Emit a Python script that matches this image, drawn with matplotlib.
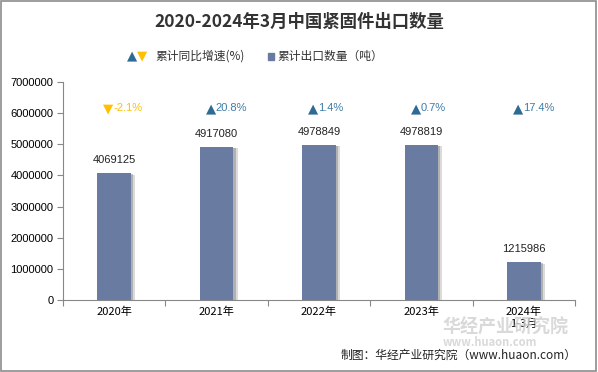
import matplotlib.pyplot as plt
from matplotlib.patches import Rectangle
import matplotlib.patheffects as pe

plt.rcParams['font.family'] = ['Noto Sans CJK SC', 'DejaVu Sans']

years = ["2020年", "2021年", "2022年", "2023年", "2024年\n1-3月"]
volume = [4069125, 4917080, 4978849, 4978819, 1215986]
growth = [-2.1, 20.8, 1.4, 0.7, 17.4]

BAR = "#6a7ba2"
UP = "#2e6b94"
UP_TXT = "#3d7ca6"
DOWN = "#ffc000"

fig = plt.figure(figsize=(5.98, 3.72), dpi=100)
fig.patches.append(Rectangle((0.002, 0.003), 0.995, 0.994, transform=fig.transFigure,
                             fill=False, edgecolor="#8c8c8c", lw=1.2))
ax = fig.add_axes([63 / 598, 1 - 300 / 372, (575 - 63) / 598, (300 - 82) / 372])

x = range(len(years))
ax.bar(x, volume, width=0.33, color=BAR, zorder=3,
       path_effects=[pe.SimplePatchShadow(offset=(3, -1), shadow_rgbFace="#b0b0b0", alpha=0.45),
                     pe.SimplePatchShadow(offset=(1.5, -0.5), shadow_rgbFace="#888888", alpha=0.5),
                     pe.Normal()])

for i, v in enumerate(volume):
    ax.text(i, v + 250000, str(v), ha="center", va="bottom", fontsize=8, color="#222222",
            family=["Liberation Sans", "DejaVu Sans"])

for i, g in enumerate(growth):
    if g >= 0:
        sym, col, tcol = "▲", UP, UP_TXT
    else:
        sym, col, tcol = "▼", DOWN, DOWN
    ax.annotate(sym, (i, 6150000), xytext=(-0.5, 0), textcoords="offset points", ha="right", va="center",
                fontsize=9.5, color=col, family=["DejaVu Sans"])
    ax.annotate(f"{g}%", (i, 6150000), xytext=(-0.5, 0), textcoords="offset points", ha="left", va="center",
                fontsize=8, color=tcol, family=["Liberation Sans", "DejaVu Sans"])

ax.set_xlim(-0.5, len(years) - 0.5)
ax.set_ylim(0, 7000000)
ax.set_yticks(range(0, 7000001, 1000000))
ax.set_yticklabels([str(v) for v in range(0, 7000001, 1000000)], family=["Liberation Sans", "DejaVu Sans"])
ax.set_xticks([-0.5] + [i + 0.5 for i in range(len(years))])
ax.set_xticklabels([])
ax.set_xticks(list(x), minor=True)
ax.set_xticklabels(years, minor=True, fontsize=8)
ax.tick_params(axis="x", which="major", length=4, color="#888888")
ax.tick_params(axis="x", which="minor", length=0, pad=5)
ax.tick_params(axis="y", length=4, color="#888888", labelsize=8, pad=3)
for s in ["top", "right"]:
    ax.spines[s].set_visible(False)
ax.spines["left"].set_color("#888888")
ax.spines["bottom"].set_color("#888888")

fig.text(0.5, 1 - 22 / 372, "2020-2024年3月中国紧固件出口数量", ha="center", va="center",
         fontsize=12.5, fontweight="bold", color="#333333")

# legend
ly = 1 - 56 / 372
fig.text(137 / 598, ly, "▲", ha="right", va="center", fontsize=9.5, color=UP, family=["DejaVu Sans"])
fig.text(137 / 598, ly, "▼", ha="left", va="center", fontsize=9.5, color=DOWN, family=["DejaVu Sans"])
fig.text(155 / 598, ly, "累计同比增速(%)", ha="left", va="center", fontsize=8.5, color="#333333")
fig.patches.append(Rectangle((268 / 598, ly - 3.5 / 372), 6 / 598, 7 / 372, transform=fig.transFigure,
                             color=BAR))
fig.text(277 / 598, ly, "累计出口数量（吨）", ha="left", va="center", fontsize=8.5, color="#333333")

# watermark
fig.text(443 / 598, 1 - 327 / 372, "华经产业研究院", ha="left", va="center", fontsize=13,
         color="#d0d0d0", fontweight="bold", alpha=0.8)
fig.text(443 / 598, 1 - 343 / 372, "www.huaon.com", ha="left", va="center", fontsize=8,
         color="#d0d0d0", fontweight="bold", alpha=0.8)

fig.text(577 / 598, 1 - 355 / 372, "制图：华经产业研究院（www.huaon.com）", ha="right", va="center",
         fontsize=8.5, color="#222222")

fig.savefig("out.png", dpi=100)
